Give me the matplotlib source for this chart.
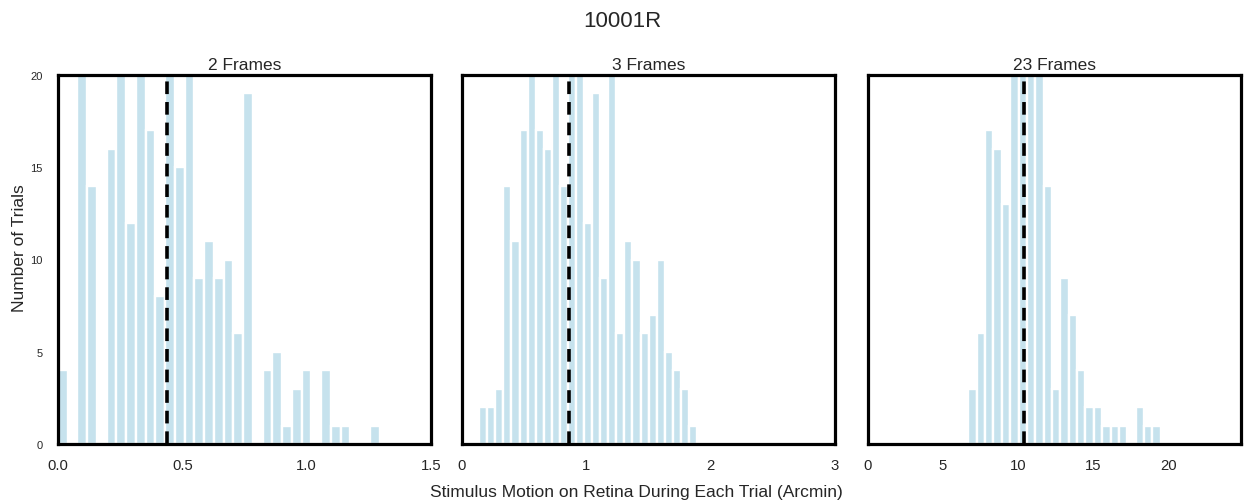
import numpy as np
import matplotlib
matplotlib.use("Agg")
import matplotlib.pyplot as plt

plt.rcParams['font.family'] = ['Liberation Sans', 'DejaVu Sans']

suptitle = "10001R"
panel_titles = ["2 Frames", "3 Frames", "23 Frames"]
xlabel = "Stimulus Motion on Retina During Each Trial (Arcmin)"
ylabel = "Number of Trials"

# histogram data: first bin edge, bin width, counts per bin
bins2_start, bins2_width = 0.0, 0.0392
counts2 = [4, 0, 23, 14, 0, 16, 22, 12, 24, 17, 8, 25, 15, 21, 9, 11, 9, 10, 6, 19,
           0, 4, 5, 1, 3, 4, 0, 4, 1, 1, 0, 0, 1]
mean2 = 0.438

bins3_start, bins3_width = 0.138, 0.0649
counts3 = [2, 2, 3, 14, 11, 17, 22, 17, 16, 21, 14, 23, 24, 12, 19, 9, 21, 6, 11, 10,
           6, 7, 10, 5, 4, 3, 1]
mean3 = 0.863

bins23_start, bins23_width = 6.69, 0.557
counts23 = [3, 6, 17, 16, 13, 22, 24, 23, 21, 14, 3, 9, 7, 4, 2, 2, 1, 1, 1, 0, 2, 1, 1]
mean23 = 10.42

xlims = [(0, 1.5), (0, 3), (0, 24.85)]
xticks = [[0.0, 0.5, 1.0, 1.5], [0, 1, 2, 3], [0, 5, 10, 15, 20]]
xticklabels = [["0.0", "0.5", "1.0", "1.5"], ["0", "1", "2", "3"], ["0", "5", "10", "15", "20"]]
yticks = [0, 5, 10, 15, 20]

datasets = [(bins2_start, bins2_width, counts2, mean2),
            (bins3_start, bins3_width, counts3, mean3),
            (bins23_start, bins23_width, counts23, mean23)]

fig = plt.figure(figsize=(12.44, 5.02), dpi=100)
lefts = [58 / 1244, 462 / 1244, 868 / 1244]
width = 373 / 1244
bottom = 1 - 445 / 502
height = (445 - 76) / 502

bar_color = '#c6e2ed'
text_color = '#262626'

for i, (start, bw, counts, mean) in enumerate(datasets):
    ax = fig.add_axes([lefts[i], bottom, width, height])
    counts = np.array(counts)
    edges = start + bw * np.arange(len(counts))
    ax.bar(edges, counts, width=bw, align='edge', color=bar_color,
           edgecolor='white', linewidth=1.7, zorder=2)
    ax.axvline(mean, color='black', linestyle=(0, (3.5, 2.2)), linewidth=2.6, zorder=3)
    ax.set_xlim(*xlims[i])
    ax.set_ylim(0, 20)
    ax.set_xticks(xticks[i])
    ax.set_xticklabels(xticklabels[i], fontsize=10.7, color=text_color)
    ax.tick_params(axis='x', length=0, pad=10)
    if i == 0:
        ax.set_yticks(yticks)
        ax.set_yticklabels([str(t) for t in yticks], fontsize=8, color=text_color)
        ax.tick_params(axis='y', length=0, pad=11)
    else:
        ax.set_yticks([])
    for sp in ax.spines.values():
        sp.set_linewidth(2.3)
        sp.set_color('black')
        sp.set_zorder(4)
    ax.set_title(panel_titles[i], fontsize=12.5, color=text_color, pad=4)

fig.text(0.5, 0.958, suptitle, ha='center', va='center', fontsize=16, color=text_color)
fig.text(636 / 1244, 1 - 493 / 502, xlabel, ha='center', va='center', fontsize=12.5, color=text_color)
fig.text(20 / 1244, 1 - 248 / 502, ylabel, ha='center', va='center', rotation=90, fontsize=12.5, color=text_color)

fig.savefig("out.png", dpi=100)
